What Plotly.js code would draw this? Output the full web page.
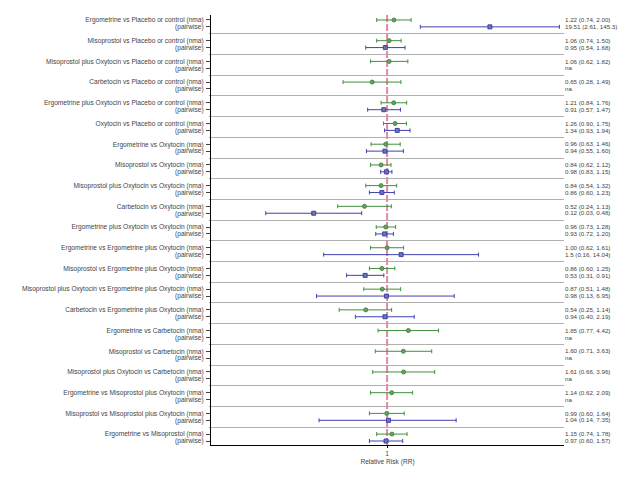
<!DOCTYPE html>
<html>
<head>
<meta charset="utf-8">
<script src="https://cdn.plot.ly/plotly-3.0.1.min.js"></script>
<style>html,body{margin:0;padding:0;background:#fff;}#chart{width:640px;height:480px;}</style>
</head>
<body>
<div id="chart"></div>
<script>
var comparisons = [
  "Ergometrine vs Placebo or control",
  "Misoprostol vs Placebo or control",
  "Misoprostol plus Oxytocin vs Placebo or control",
  "Carbetocin vs Placebo or control",
  "Ergometrine plus Oxytocin vs Placebo or control",
  "Oxytocin vs Placebo or control",
  "Ergometrine vs Oxytocin",
  "Misoprostol vs Oxytocin",
  "Misoprostol plus Oxytocin vs Oxytocin",
  "Carbetocin vs Oxytocin",
  "Ergometrine plus Oxytocin vs Oxytocin",
  "Ergometrine vs Ergometrine plus Oxytocin",
  "Misoprostol vs Ergometrine plus Oxytocin",
  "Misoprostol plus Oxytocin vs Ergometrine plus Oxytocin",
  "Carbetocin vs Ergometrine plus Oxytocin",
  "Ergometrine vs Carbetocin",
  "Misoprostol vs Carbetocin",
  "Misoprostol plus Oxytocin vs Carbetocin",
  "Ergometrine vs Misoprostol plus Oxytocin",
  "Misoprostol vs Misoprostol plus Oxytocin",
  "Ergometrine vs Misoprostol"
];
var nmaRR = [1.22,1.06,1.06,0.65,1.21,1.26,0.96,0.84,0.84,0.52,0.96,1.00,0.86,0.87,0.54,1.85,1.60,1.61,1.14,0.99,1.15];
var nmaLo = [0.74,0.74,0.62,0.28,0.84,0.90,0.63,0.62,0.54,0.24,0.73,0.62,0.60,0.51,0.25,0.77,0.71,0.66,0.62,0.60,0.74];
var nmaHi = [2.00,1.50,1.82,1.49,1.76,1.75,1.46,1.12,1.32,1.13,1.28,1.61,1.25,1.48,1.14,4.42,3.63,3.96,2.09,1.64,1.78];
var pwRR = [19.51,0.95,null,null,0.91,1.34,0.94,0.98,0.86,0.12,0.93,1.5,0.53,0.98,0.94,null,null,null,null,1.04,0.97];
var pwLo = [2.61,0.54,null,null,0.57,0.93,0.55,0.83,0.60,0.03,0.72,0.16,0.31,0.13,0.40,null,null,null,null,0.14,0.60];
var pwHi = [145.3,1.68,null,null,1.47,1.94,1.60,1.15,1.23,0.48,1.20,14.04,0.91,6.95,2.19,null,null,null,null,7.35,1.57];
var nmaText = ["1.22 (0.74, 2.00)","1.06 (0.74, 1.50)","1.06 (0.62, 1.82)","0.65 (0.28, 1.49)","1.21 (0.84, 1.76)","1.26 (0.90, 1.75)","0.96 (0.63, 1.46)","0.84 (0.62, 1.12)","0.84 (0.54, 1.32)","0.52 (0.24, 1.13)","0.96 (0.73, 1.28)","1.00 (0.62, 1.61)","0.86 (0.60, 1.25)","0.87 (0.51, 1.48)","0.54 (0.25, 1.14)","1.85 (0.77, 4.42)","1.60 (0.71, 3.63)","1.61 (0.66, 3.96)","1.14 (0.62, 2.09)","0.99 (0.60, 1.64)","1.15 (0.74, 1.78)"];
var pwText = ["19.51 (2.61, 145.3)","0.95 (0.54, 1.68)","na","na","0.91 (0.57, 1.47)","1.34 (0.93, 1.94)","0.94 (0.55, 1.60)","0.98 (0.83, 1.15)","0.86 (0.60, 1.23)","0.12 (0.03, 0.48)","0.93 (0.72, 1.20)","1.5 (0.16, 14.04)","0.53 (0.31, 0.91)","0.98 (0.13, 6.95)","0.94 (0.40, 2.19)","na","na","na","na","1.04 (0.14, 7.35)","0.97 (0.60, 1.57)"];

var n = comparisons.length;
var yN = [], yP = [], tickvals = [], leftText = [], rightText = [], seps = [];
for (var i = 0; i < n; i++) {
  yN.push(i*3); yP.push(i*3+1);
  tickvals.push(i*3, i*3+1);
  leftText.push(comparisons[i] + " (nma)", "(pairwise)");
  rightText.push(nmaText[i], pwText[i]);
  if (i < n-1) seps.push(i*3+2);
}
var yRange = [n*3-2+0.58, -0.72];

var green = '#3f8f3f', blue = '#4040b0';
var txt = '#444';
var fs = 6.2, fsL = 6.6;
var traces = [
  {x:[1,1], y:[yRange[1], yRange[0]], mode:'lines', line:{color:'#e38aa0', width:2, dash:'7px,2px'}, hoverinfo:'skip', showlegend:false},
  {x:nmaRR, y:yN, mode:'markers', type:'scatter', showlegend:false,
   marker:{symbol:'circle', size:4, color:'#6f9a6f', line:{color:green, width:1}},
   error_x:{type:'data', symmetric:false,
     array:nmaRR.map(function(v,i){return nmaHi[i]-v;}),
     arrayminus:nmaRR.map(function(v,i){return v-nmaLo[i];}),
     color:green, thickness:1, width:2}},
  {x:pwRR, y:yP, mode:'markers', type:'scatter', showlegend:false,
   marker:{symbol:'square', size:4, color:'#6a78a8', line:{color:blue, width:1}},
   error_x:{type:'data', symmetric:false,
     array:pwRR.map(function(v,i){return v==null?null:pwHi[i]-v;}),
     arrayminus:pwRR.map(function(v,i){return v==null?null:v-pwLo[i];}),
     color:blue, thickness:1, width:2}},
  {x:[null], y:[null], yaxis:'y2', showlegend:false, hoverinfo:'skip'}
];

var layout = {
  width:640, height:480,
  margin:{l:211, r:76, t:15, b:35},
  paper_bgcolor:'#fff', plot_bgcolor:'#fff',
  font:{family:'Liberation Sans, Arial, sans-serif', size:fs, color:txt},
  showlegend:false,
  xaxis:{type:'log', range:[-2.21, 2.22], tickvals:[1], ticktext:['1'],
    showgrid:false, zeroline:false, showline:true, linecolor:'#000', linewidth:1,
    ticks:'outside', ticklen:2, tickcolor:'#000',
    tickfont:{size:fsL, color:txt},
    title:{text:'Relative Risk (RR)', font:{size:fsL, color:txt}, standoff:3}},
  yaxis:{range:yRange, tickmode:'array', tickvals:tickvals, ticktext:leftText,
    showgrid:false, zeroline:false, showline:true, linecolor:'#000', linewidth:1,
    ticks:'outside', ticklen:4, tickcolor:'#444', ticklabelstandoff:1,
    tickfont:{size:fsL, color:txt},
    minor:{tickmode:'array', tickvals:seps, showgrid:true, gridcolor:'#b0b0b0', gridwidth:1, ticks:'outside', ticklen:1, tickcolor:'#aaa'}},
  yaxis2:{range:yRange, overlaying:'y', side:'right', tickmode:'array', tickvals:tickvals, ticktext:rightText,
    showgrid:false, zeroline:false, showline:false, ticks:'', ticklen:0,
    tickfont:{size:fs, color:txt}}
};
Plotly.newPlot('chart', traces, layout, {displayModeBar:false, staticPlot:true});
</script>
</body>
</html>
